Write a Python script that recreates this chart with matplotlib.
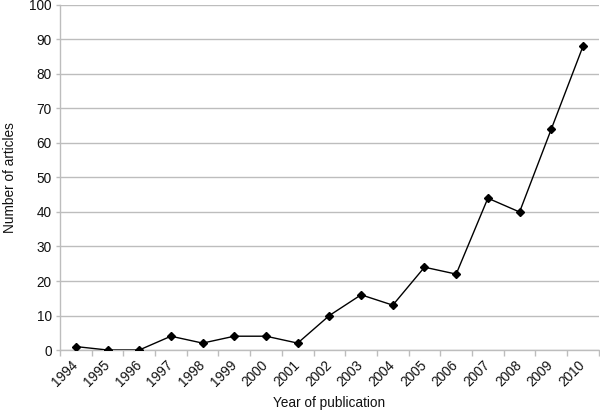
import matplotlib
matplotlib.use("Agg")
import matplotlib.pyplot as plt
import numpy as np

years = ["1994", "1995", "1996", "1997", "1998", "1999", "2000", "2001", "2002",
         "2003", "2004", "2005", "2006", "2007", "2008", "2009", "2010"]
articles = [1, 0, 0, 4, 2, 4, 4, 2, 10, 16, 13, 24, 22, 44, 40, 64, 88]
yticks = [0, 10, 20, 30, 40, 50, 60, 70, 80, 90, 100]

plt.rcParams['font.family'] = ['Liberation Sans', 'DejaVu Sans']

fig = plt.figure(figsize=(6.0, 4.11), dpi=100)
ax = fig.add_axes([0.1, 0.1484, 0.898, 0.8395])

x = np.arange(len(years))
ax.plot(x, articles, color='black', linewidth=1.0, marker='D', markersize=4.3,
        markerfacecolor='black', markeredgecolor='black', zorder=3)

ax.set_xlim(-0.5, len(years) - 0.5)
ax.set_ylim(0, 100)
ax.set_yticks(yticks)
ax.set_yticklabels([str(v) for v in yticks], fontsize=9.8, color='#111111')
ax.yaxis.grid(True, color='#bdbdbd', linewidth=1.0)
ax.set_axisbelow(True)

ax.set_xticks(x)
ax.set_xticklabels(years, rotation=45, ha='right', va='center',
                   rotation_mode='anchor', fontsize=9.8, color='#111111')
ax.set_xticks(np.arange(-0.5, len(years) + 0.5, 1), minor=True)
ax.tick_params(axis='x', which='major', length=0, pad=9)
ax.tick_params(axis='x', which='minor', length=4, color='#bdbdbd', width=1.0)
ax.tick_params(axis='y', length=3, color='#bdbdbd', width=1.0, pad=3)

for s in ['top', 'right']:
    ax.spines[s].set_visible(False)
for s in ['left', 'bottom']:
    ax.spines[s].set_color('#bdbdbd')
    ax.spines[s].set_linewidth(1.0)

ax.set_ylabel("Number of articles", fontsize=9.8, color='#111111', labelpad=9)
ax.set_xlabel("Year of publication", fontsize=9.8, color='#111111', labelpad=5)

fig.savefig("out.png", dpi=100)
